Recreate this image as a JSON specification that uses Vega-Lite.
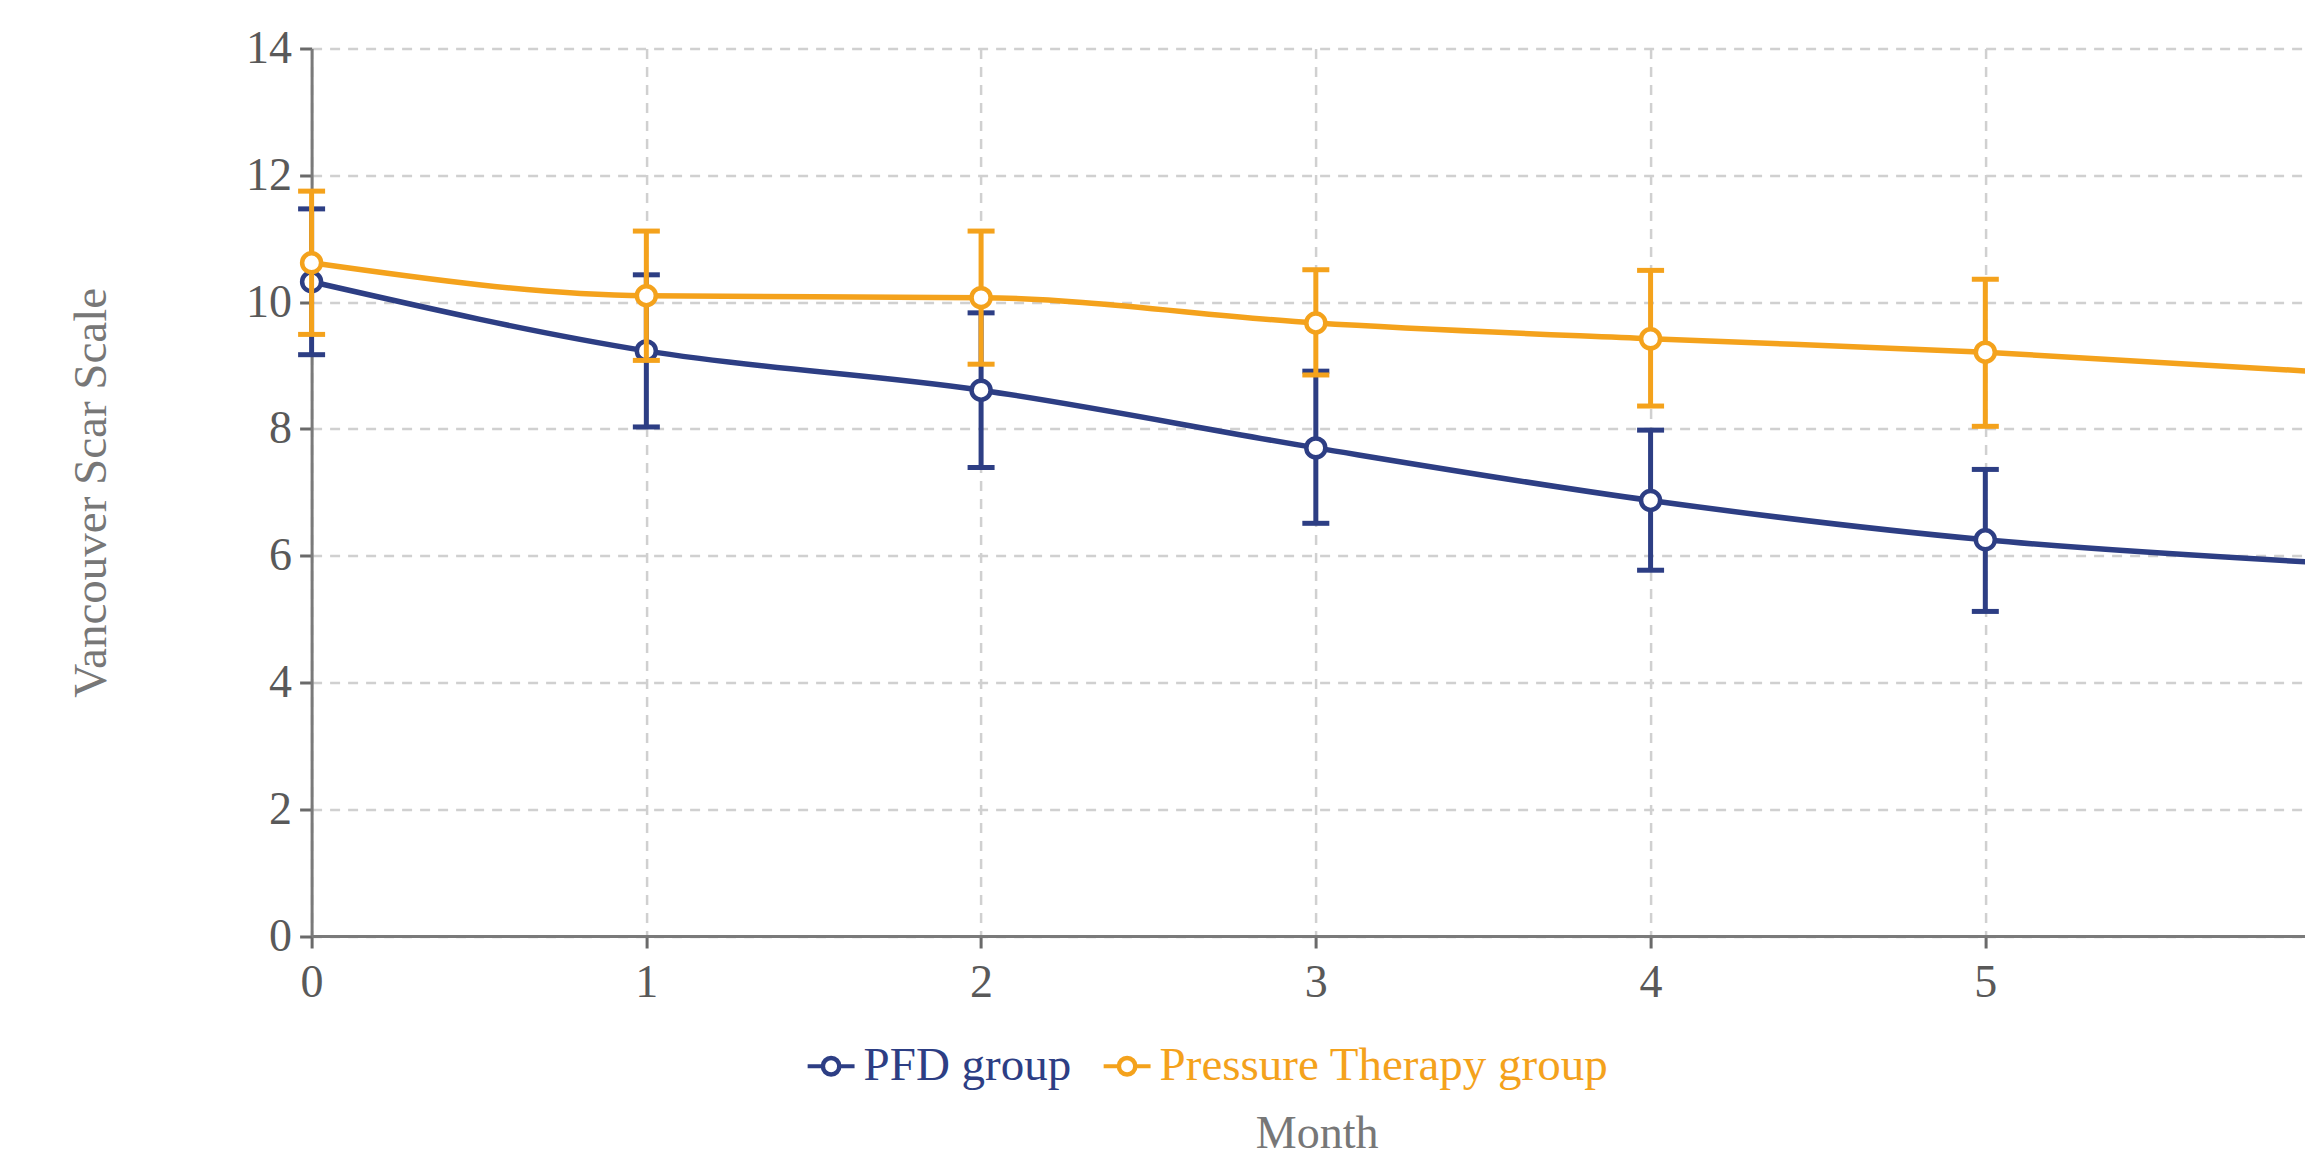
{
  "$schema": "https://vega.github.io/schema/vega-lite/v6.json",
  "width": 1993.4,
  "height": 887.5,
  "autosize": {"type": "none"},
  "padding": {"left": 311.6, "top": 48.5, "right": 0, "bottom": 222},
  "background": "white",
  "config": {
    "view": {"stroke": null},
    "font": "Liberation Serif",
    "axis": {
      "titleFont": "Liberation Serif", "titleFontSize": 47, "titleFontWeight": "normal", "titleColor": "#777777",
      "labelFont": "Liberation Serif", "labelFontSize": 46, "labelColor": "#595959", "labelFlush": false,
      "tickSize": 12, "tickColor": "#6a6a6a", "tickWidth": 3,
      "domainColor": "#7a7a7a", "domainWidth": 3,
      "grid": true, "gridDash": [10, 8], "gridColor": "#d0d0d0", "gridWidth": 2.5
    },
    "axisX": {"labelPadding": 12},
    "axisY": {"labelPadding": 8}
  },
  "data": {"values": [
    {"month": 0, "group": "PFD group", "mean": 10.32, "lo": 9.17, "hi": 11.47},
    {"month": 1, "group": "PFD group", "mean": 9.23, "lo": 8.03, "hi": 10.43},
    {"month": 2, "group": "PFD group", "mean": 8.61, "lo": 7.39, "hi": 9.83},
    {"month": 3, "group": "PFD group", "mean": 7.70, "lo": 6.51, "hi": 8.91},
    {"month": 4, "group": "PFD group", "mean": 6.87, "lo": 5.77, "hi": 7.98},
    {"month": 5, "group": "PFD group", "mean": 6.25, "lo": 5.12, "hi": 7.36},
    {"month": 6, "group": "PFD group", "mean": 5.89, "lo": 4.80, "hi": 6.98},
    {"month": 0, "group": "Pressure Therapy group", "mean": 10.62, "lo": 9.49, "hi": 11.75},
    {"month": 1, "group": "Pressure Therapy group", "mean": 10.10, "lo": 9.08, "hi": 11.12},
    {"month": 2, "group": "Pressure Therapy group", "mean": 10.07, "lo": 9.02, "hi": 11.12},
    {"month": 3, "group": "Pressure Therapy group", "mean": 9.67, "lo": 8.85, "hi": 10.51},
    {"month": 4, "group": "Pressure Therapy group", "mean": 9.42, "lo": 8.36, "hi": 10.50},
    {"month": 5, "group": "Pressure Therapy group", "mean": 9.21, "lo": 8.04, "hi": 10.36},
    {"month": 6, "group": "Pressure Therapy group", "mean": 8.90, "lo": 7.90, "hi": 9.95}
  ]},
  "encoding": {
    "x": {
      "field": "month", "type": "quantitative",
      "scale": {"domain": [0, 5.955], "nice": false, "zero": false},
      "axis": {
        "values": [0, 1, 2, 3, 4, 5], "format": "d",
        "title": "Month", "titleX": 1005, "titleY": 197, "titleFontSize": 46, "titleBaseline": "middle", "titleAlign": "center"
      }
    },
    "color": {
      "field": "group", "type": "nominal",
      "scale": {"domain": ["PFD group", "Pressure Therapy group"], "range": ["#2D3E84", "#F4A21C"]},
      "legend": {
        "orient": "none", "legendX": 494, "legendY": 992, "direction": "horizontal", "title": null, "padding": 0,
        "symbolType": "M-1,0L-0.36,0M0.36,0L1,0M0.36,0A0.36,0.36 0 1,1 -0.36,0A0.36,0.36 0 1,1 0.36,0ZM0.34,0A0.34,0.34 0 1,0 -0.34,0A0.34,0.34 0 1,0 0.34,0Z",
        "symbolSize": 2200, "symbolStrokeWidth": 4,
        "labelFont": "Liberation Serif", "labelFontSize": 47, "labelOffset": 7, "columnPadding": 24, "labelLimit": 0,
        "encode": {
          "symbols": {"update": {"stroke": {"scale": "color", "field": "value"}, "fill": {"scale": "color", "field": "value"}, "strokeWidth": {"value": 4}, "opacity": {"value": 1}}},
          "labels": {"update": {"fill": {"scale": "color", "field": "value"}}}
        }
      }
    }
  },
  "layer": [
    {
      "transform": [{"filter": "datum.group === 'PFD group'"}],
      "layer": [
        {"mark": {"type": "rule", "strokeWidth": 5},
         "encoding": {
           "y": {"field": "lo", "type": "quantitative", "scale": {"domain": [0, 14], "nice": false},
             "axis": {"values": [0, 2, 4, 6, 8, 10, 12, 14], "title": "Vancouver Scar Scale", "titleX": -220, "titleY": 443.75, "titleAngle": 270, "titleAlign": "center", "titleBaseline": "middle"}},
           "y2": {"field": "hi"}
         }},
        {"mark": {"type": "tick", "orient": "horizontal", "size": 27, "thickness": 5, "opacity": 1},
         "encoding": {"y": {"field": "lo", "type": "quantitative",
             "axis": {"values": [0, 2, 4, 6, 8, 10, 12, 14], "title": "Vancouver Scar Scale", "titleX": -220, "titleY": 443.75, "titleAngle": 270, "titleAlign": "center", "titleBaseline": "middle"}}}},
        {"mark": {"type": "tick", "orient": "horizontal", "size": 27, "thickness": 5, "opacity": 1},
         "encoding": {"y": {"field": "hi", "type": "quantitative",
             "axis": {"values": [0, 2, 4, 6, 8, 10, 12, 14], "title": "Vancouver Scar Scale", "titleX": -220, "titleY": 443.75, "titleAngle": 270, "titleAlign": "center", "titleBaseline": "middle"}}}},
        {"mark": {"type": "line", "interpolate": "monotone", "strokeWidth": 5.5},
         "encoding": {"y": {"field": "mean", "type": "quantitative",
             "axis": {"values": [0, 2, 4, 6, 8, 10, 12, 14], "title": "Vancouver Scar Scale", "titleX": -220, "titleY": 443.75, "titleAngle": 270, "titleAlign": "center", "titleBaseline": "middle"}}}},
        {"mark": {"type": "point", "shape": "circle", "filled": false, "fill": "white", "fillOpacity": 1, "opacity": 1, "size": 360, "strokeWidth": 4.5},
         "encoding": {"y": {"field": "mean", "type": "quantitative",
             "axis": {"values": [0, 2, 4, 6, 8, 10, 12, 14], "title": "Vancouver Scar Scale", "titleX": -220, "titleY": 443.75, "titleAngle": 270, "titleAlign": "center", "titleBaseline": "middle"}}}}
      ]
    },
    {
      "transform": [{"filter": "datum.group === 'Pressure Therapy group'"}],
      "layer": [
        {"mark": {"type": "rule", "strokeWidth": 5},
         "encoding": {"y": {"field": "lo", "type": "quantitative",
             "axis": {"values": [0, 2, 4, 6, 8, 10, 12, 14], "title": "Vancouver Scar Scale", "titleX": -220, "titleY": 443.75, "titleAngle": 270, "titleAlign": "center", "titleBaseline": "middle"}}, "y2": {"field": "hi"}}},
        {"mark": {"type": "tick", "orient": "horizontal", "size": 27, "thickness": 5, "opacity": 1},
         "encoding": {"y": {"field": "lo", "type": "quantitative",
             "axis": {"values": [0, 2, 4, 6, 8, 10, 12, 14], "title": "Vancouver Scar Scale", "titleX": -220, "titleY": 443.75, "titleAngle": 270, "titleAlign": "center", "titleBaseline": "middle"}}}},
        {"mark": {"type": "tick", "orient": "horizontal", "size": 27, "thickness": 5, "opacity": 1},
         "encoding": {"y": {"field": "hi", "type": "quantitative",
             "axis": {"values": [0, 2, 4, 6, 8, 10, 12, 14], "title": "Vancouver Scar Scale", "titleX": -220, "titleY": 443.75, "titleAngle": 270, "titleAlign": "center", "titleBaseline": "middle"}}}},
        {"mark": {"type": "line", "interpolate": "monotone", "strokeWidth": 5.5},
         "encoding": {"y": {"field": "mean", "type": "quantitative",
             "axis": {"values": [0, 2, 4, 6, 8, 10, 12, 14], "title": "Vancouver Scar Scale", "titleX": -220, "titleY": 443.75, "titleAngle": 270, "titleAlign": "center", "titleBaseline": "middle"}}}},
        {"mark": {"type": "point", "shape": "circle", "filled": false, "fill": "white", "fillOpacity": 1, "opacity": 1, "size": 360, "strokeWidth": 4.5},
         "encoding": {"y": {"field": "mean", "type": "quantitative",
             "axis": {"values": [0, 2, 4, 6, 8, 10, 12, 14], "title": "Vancouver Scar Scale", "titleX": -220, "titleY": 443.75, "titleAngle": 270, "titleAlign": "center", "titleBaseline": "middle"}}}}
      ]
    }
  ]
}
